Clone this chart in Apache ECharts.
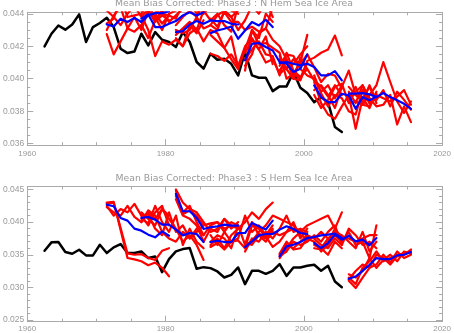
<!DOCTYPE html>
<html>
<head>
<meta charset="utf-8">
<script src="https://cdn.jsdelivr.net/npm/echarts@6/dist/echarts.min.js"></script>
<style>
html, body { margin: 0; padding: 0; background: #ffffff; }
#chart { width: 454px; height: 333px; }
</style>
</head>
<body>
<div id="chart"></div>
<script>
// Panel titles
const titles = [
  'Mean Bias Corrected: Phase3 : N Hem Sea Ice Area',
  'Mean Bias Corrected: Phase3 : S Hem Sea Ice Area'
];

// Axis ranges and tick values
const xRange = [1960, 2020];
const xMajorTicks = [1960, 1980, 2000, 2020];
const xMinorTicks = [1965, 1970, 1975, 1985, 1990, 1995, 2005, 2010, 2015];
const nhRange = [0.03591, 0.04409];
const nhMajorTicks = [0.036, 0.038, 0.040, 0.042, 0.044];
const nhMinorTicks = [0.0365, 0.037, 0.0375, 0.0385, 0.039, 0.0395, 0.0405, 0.041, 0.0415, 0.0425, 0.043, 0.0435];
const shRange = [0.02474, 0.04546];
const shMajorTicks = [0.025, 0.030, 0.035, 0.040, 0.045];
const shMinorTicks = [0.026, 0.027, 0.028, 0.029, 0.031, 0.032, 0.033, 0.034, 0.036, 0.037, 0.038, 0.039, 0.041, 0.042, 0.043, 0.044];

// Annual means are plotted at mid-year
const MID_YEAR = 0.5;

// Observed record
const obsYears = [1962, 1963, 1964, 1965, 1966, 1967, 1968, 1969, 1970, 1971,
  1972, 1973, 1974, 1975, 1976, 1977, 1978, 1979, 1980, 1981,
  1982, 1983, 1984, 1985, 1986, 1987, 1988, 1989, 1990, 1991,
  1992, 1993, 1994, 1995, 1996, 1997, 1998, 1999, 2000, 2001,
  2002, 2003, 2004, 2005];
const nhObs = [0.04199, 0.04277, 0.04328, 0.04302, 0.04334, 0.04396, 0.04226, 0.04318, 0.04343, 0.04375,
  0.04318, 0.04185, 0.04158, 0.04168, 0.04277, 0.04205, 0.04287, 0.04240, 0.04226, 0.04195,
  0.04287, 0.04226, 0.04103, 0.04062, 0.04154, 0.04117, 0.04123, 0.04092, 0.04021, 0.04164,
  0.04021, 0.04006, 0.04006, 0.03924, 0.03953, 0.03953, 0.04041, 0.03945, 0.03912, 0.03856,
  0.03887, 0.03856, 0.03703, 0.03672];
const shObs = [0.03562, 0.03690, 0.03695, 0.03541, 0.03515, 0.03577, 0.03490, 0.03490, 0.03654, 0.03526,
  0.03613, 0.03664, 0.03526, 0.03526, 0.03551, 0.03449, 0.03474, 0.03233, 0.03433, 0.03551,
  0.03587, 0.03603, 0.03285, 0.03310, 0.03295, 0.03244, 0.03151, 0.03192, 0.03305, 0.03049,
  0.03254, 0.03254, 0.03208, 0.03254, 0.03356, 0.03177, 0.03305, 0.03305, 0.03331, 0.03346,
  0.03254, 0.03331, 0.03090, 0.03003];

// Hindcast start years; each run covers ten annual values from its start
const startYears = [1971, 1976, 1981, 1986, 1991, 1996, 2001, 2006];

// Northern Hemisphere: ensemble mean and members per start year
const nhMean1971 = [0.04334, 0.04322, 0.04369, 0.04349, 0.04375, 0.04349, 0.04390, 0.04404, 0.04404, 0.04416];
const nhRuns1971 = [
  [0.04275, 0.04150, 0.04230, 0.04310, 0.04290, 0.04330, 0.04250, 0.04360, 0.04420, 0.04470],
  [0.04420, 0.04380, 0.04330, 0.04400, 0.04450, 0.04380, 0.04430, 0.04470, 0.04410, 0.04450],
  [0.04300, 0.04390, 0.04440, 0.04310, 0.04380, 0.04300, 0.04420, 0.04350, 0.04390, 0.04360],
  [0.04340, 0.04370, 0.04500, 0.04380, 0.04390, 0.04400, 0.04460, 0.04420, 0.04400, 0.04390]];
const nhMean1976 = [0.04370, 0.04396, 0.04318, 0.04318, 0.04338, 0.04355, 0.04390, 0.04410, 0.04390, 0.04410];
const nhRuns1976 = [
  [0.04390, 0.04300, 0.04140, 0.04230, 0.04210, 0.04240, 0.04200, 0.04330, 0.04280, 0.04360],
  [0.04420, 0.04450, 0.04380, 0.04300, 0.04400, 0.04420, 0.04470, 0.04440, 0.04500, 0.04420],
  [0.04330, 0.04420, 0.04360, 0.04410, 0.04350, 0.04390, 0.04430, 0.04480, 0.04400, 0.04460],
  [0.04350, 0.04410, 0.04400, 0.04340, 0.04390, 0.04370, 0.04460, 0.04420, 0.04380, 0.04470]];
const nhMean1981 = [0.04287, 0.04293, 0.04334, 0.04355, 0.04338, 0.04359, 0.04355, 0.04355, 0.04338, 0.04334];
const nhRuns1981 = [
  [0.04250, 0.04200, 0.04280, 0.04310, 0.04230, 0.04300, 0.04280, 0.04190, 0.04260, 0.04070],
  [0.04330, 0.04380, 0.04420, 0.04460, 0.04400, 0.04450, 0.04430, 0.04480, 0.04420, 0.04400],
  [0.04270, 0.04310, 0.04350, 0.04300, 0.04420, 0.04360, 0.04400, 0.04330, 0.04290, 0.04450],
  [0.04300, 0.04280, 0.04300, 0.04380, 0.04310, 0.04330, 0.04300, 0.04420, 0.04380, 0.04420]];
const nhMean1986 = [0.04281, 0.04297, 0.04308, 0.04322, 0.04246, 0.04297, 0.04349, 0.04328, 0.04363, 0.04318];
const nhRuns1986 = [
  [0.04154, 0.04140, 0.04110, 0.04150, 0.04080, 0.04200, 0.04250, 0.04180, 0.04260, 0.04090],
  [0.04330, 0.04390, 0.04420, 0.04380, 0.04300, 0.04360, 0.04450, 0.04400, 0.04480, 0.04380],
  [0.04270, 0.04230, 0.04190, 0.04120, 0.04060, 0.04180, 0.04300, 0.04250, 0.04400, 0.04350],
  [0.04370, 0.04320, 0.04410, 0.04350, 0.04350, 0.04300, 0.04320, 0.04290, 0.04310, 0.04440]];
const nhMean1991 = [0.04113, 0.04215, 0.04220, 0.04195, 0.04174, 0.04103, 0.04092, 0.04041, 0.04062, 0.04150];
const nhRuns1991 = [
  [0.04080, 0.04150, 0.04280, 0.04310, 0.04240, 0.04200, 0.04120, 0.04000, 0.03990, 0.04100],
  [0.04160, 0.04240, 0.04180, 0.04100, 0.04120, 0.04030, 0.04070, 0.04090, 0.04150, 0.04200],
  [0.04050, 0.04300, 0.04210, 0.04220, 0.04190, 0.04160, 0.04000, 0.04030, 0.04100, 0.04270],
  [0.04120, 0.04180, 0.04230, 0.04150, 0.04140, 0.04020, 0.04160, 0.04050, 0.04010, 0.04060]];
const nhMean1996 = [0.04096, 0.04103, 0.04092, 0.04082, 0.04092, 0.04072, 0.04021, 0.04021, 0.04047, 0.03990];
const nhRuns1996 = [
  [0.04050, 0.04120, 0.04030, 0.04000, 0.04110, 0.04130, 0.04160, 0.04180, 0.04266, 0.04144],
  [0.04120, 0.04060, 0.04000, 0.04130, 0.04060, 0.03990, 0.03950, 0.03890, 0.03960, 0.03900],
  [0.04080, 0.04150, 0.04140, 0.04060, 0.04020, 0.04000, 0.03920, 0.03960, 0.03880, 0.03960],
  [0.04140, 0.04060, 0.04120, 0.04090, 0.04150, 0.04070, 0.03980, 0.04030, 0.04020, 0.03940]];
const nhMean2001 = [0.03959, 0.03887, 0.03856, 0.03856, 0.03908, 0.03897, 0.03815, 0.03887, 0.03867, 0.03891];
const nhRuns2001 = [
  [0.03980, 0.03850, 0.03780, 0.03754, 0.03830, 0.03900, 0.03692, 0.03880, 0.03820, 0.03920],
  [0.03930, 0.03960, 0.03900, 0.03820, 0.03950, 0.04050, 0.03900, 0.03860, 0.03960, 0.03850],
  [0.04020, 0.03910, 0.03830, 0.03900, 0.03880, 0.03800, 0.03780, 0.03930, 0.03850, 0.03880],
  [0.03900, 0.03820, 0.03870, 0.03950, 0.03970, 0.03850, 0.03860, 0.03840, 0.03830, 0.03910]];
const nhMean2006 = [0.03908, 0.03908, 0.03912, 0.03904, 0.03887, 0.03912, 0.03887, 0.03867, 0.03846, 0.03815];
const nhRuns2006 = [
  [0.03880, 0.03950, 0.03840, 0.03900, 0.03960, 0.04103, 0.03980, 0.03860, 0.03790, 0.03860],
  [0.03920, 0.03850, 0.03960, 0.03880, 0.03830, 0.03840, 0.03900, 0.03719, 0.03830, 0.03733],
  [0.03950, 0.03900, 0.03880, 0.03950, 0.03870, 0.03930, 0.03830, 0.03920, 0.03870, 0.03810],
  [0.03860, 0.03920, 0.03960, 0.03850, 0.03900, 0.03880, 0.03860, 0.03890, 0.03930, 0.03840]];

// Southern Hemisphere: ensemble mean and members per start year
const shMean1971 = [0.04269, 0.04244, 0.04064, 0.04023, 0.03900, 0.03869, 0.03808, 0.03767, 0.03859, 0.03792];
const shRuns1971 = [
  [0.04300, 0.04310, 0.03880, 0.03450, 0.03430, 0.03400, 0.03340, 0.03380, 0.03300, 0.03170],
  [0.04290, 0.04300, 0.03910, 0.03520, 0.03500, 0.03510, 0.03450, 0.03420, 0.03560, 0.03600],
  [0.04250, 0.04100, 0.04200, 0.04150, 0.04280, 0.04100, 0.03950, 0.04150, 0.04250, 0.03950],
  [0.04230, 0.04150, 0.04100, 0.04250, 0.04080, 0.04000, 0.04150, 0.04050, 0.04200, 0.04100]];
const shMean1976 = [0.04064, 0.04079, 0.04038, 0.03962, 0.03962, 0.03885, 0.03797, 0.03833, 0.03818, 0.03695];
const shRuns1976 = [
  [0.04150, 0.04050, 0.03950, 0.04200, 0.04050, 0.03900, 0.03700, 0.03800, 0.03650, 0.03420],
  [0.04000, 0.04180, 0.04100, 0.03850, 0.03750, 0.03700, 0.03850, 0.03750, 0.03900, 0.03800],
  [0.04050, 0.03980, 0.04250, 0.04000, 0.03850, 0.04100, 0.03650, 0.03900, 0.03700, 0.03600],
  [0.04100, 0.04120, 0.03900, 0.03800, 0.04150, 0.03850, 0.03950, 0.03750, 0.03850, 0.03950]];
const shMean1981 = [0.04433, 0.04167, 0.04167, 0.04064, 0.03895, 0.03921, 0.03936, 0.03962, 0.03946, 0.03946];
const shRuns1981 = [
  [0.04500, 0.04300, 0.04200, 0.04150, 0.04000, 0.03850, 0.03900, 0.04050, 0.03950, 0.03900],
  [0.04400, 0.04150, 0.04250, 0.04000, 0.03800, 0.03950, 0.04000, 0.03850, 0.04000, 0.03950],
  [0.04350, 0.04100, 0.04050, 0.03950, 0.03700, 0.03900, 0.03850, 0.04050, 0.03900, 0.04000],
  [0.04480, 0.04120, 0.04180, 0.04100, 0.03950, 0.03980, 0.04000, 0.03900, 0.03950, 0.03920]];
const shMean1986 = [0.03695, 0.03715, 0.03695, 0.03695, 0.03833, 0.03833, 0.03987, 0.03936, 0.03885, 0.04023];
const shRuns1986 = [
  [0.03650, 0.03750, 0.03600, 0.03800, 0.03900, 0.04000, 0.04150, 0.04050, 0.04200, 0.04300],
  [0.03800, 0.03650, 0.03850, 0.03700, 0.03750, 0.04100, 0.03850, 0.03950, 0.03800, 0.03950],
  [0.03700, 0.03800, 0.03750, 0.03600, 0.03950, 0.03650, 0.04000, 0.03800, 0.03750, 0.03900],
  [0.03620, 0.03680, 0.03580, 0.03700, 0.03720, 0.03600, 0.03950, 0.03900, 0.03780, 0.03880]];
const shMean1991 = [0.03618, 0.03705, 0.03797, 0.03818, 0.03818, 0.03885, 0.03936, 0.03895, 0.03833, 0.03818];
const shRuns1991 = [
  [0.03600, 0.03700, 0.03850, 0.03950, 0.04100, 0.04050, 0.04000, 0.03950, 0.03800, 0.03750],
  [0.03550, 0.03750, 0.03700, 0.03850, 0.03750, 0.03900, 0.04100, 0.03850, 0.03900, 0.03850],
  [0.03700, 0.03650, 0.03800, 0.03700, 0.03850, 0.03800, 0.03850, 0.04000, 0.03750, 0.03900],
  [0.03620, 0.03720, 0.03820, 0.03780, 0.03620, 0.03700, 0.03850, 0.03900, 0.03880, 0.03780]];
const shMean1996 = [0.03474, 0.03628, 0.03654, 0.03695, 0.03756, 0.03772, 0.03797, 0.03808, 0.03823, 0.03756];
const shRuns1996 = [
  [0.03450, 0.03600, 0.03750, 0.03850, 0.03950, 0.04000, 0.04050, 0.04100, 0.03900, 0.04150],
  [0.03500, 0.03650, 0.03600, 0.03700, 0.03800, 0.03750, 0.03850, 0.03750, 0.03800, 0.03700],
  [0.03480, 0.03550, 0.03700, 0.03650, 0.03700, 0.03800, 0.03700, 0.03850, 0.03950, 0.03650],
  [0.03520, 0.03700, 0.03580, 0.03600, 0.03750, 0.03700, 0.03600, 0.03500, 0.03700, 0.03600]];
const shMean2001 = [0.03679, 0.03603, 0.03679, 0.03808, 0.03731, 0.03792, 0.03705, 0.03731, 0.03644, 0.03756];
const shRuns2001 = [
  [0.03700, 0.03550, 0.03650, 0.03800, 0.03700, 0.03850, 0.03650, 0.03700, 0.03450, 0.03950],
  [0.03650, 0.03600, 0.03750, 0.03850, 0.03800, 0.03700, 0.03600, 0.03850, 0.03550, 0.03700],
  [0.03750, 0.03650, 0.03600, 0.03750, 0.03650, 0.03900, 0.03800, 0.03650, 0.03700, 0.03600],
  [0.03600, 0.03580, 0.03700, 0.03900, 0.03750, 0.03750, 0.03700, 0.03750, 0.03800, 0.03800]];
const shMean2006 = [0.03131, 0.03167, 0.03254, 0.03346, 0.03449, 0.03433, 0.03433, 0.03490, 0.03500, 0.03541];
const shRuns2006 = [
  [0.03150, 0.03050, 0.03300, 0.03400, 0.03550, 0.03400, 0.03450, 0.03500, 0.03520, 0.03550],
  [0.03100, 0.02990, 0.03150, 0.03300, 0.03350, 0.03500, 0.03380, 0.03550, 0.03450, 0.03500],
  [0.03200, 0.03150, 0.03250, 0.03450, 0.03300, 0.03420, 0.03500, 0.03400, 0.03550, 0.03520],
  [0.03120, 0.03250, 0.03350, 0.03300, 0.03500, 0.03450, 0.03350, 0.03480, 0.03500, 0.03580]];

const nhMeans = [nhMean1971, nhMean1976, nhMean1981, nhMean1986, nhMean1991, nhMean1996, nhMean2001, nhMean2006];
const nhRuns = [nhRuns1971, nhRuns1976, nhRuns1981, nhRuns1986, nhRuns1991, nhRuns1996, nhRuns2001, nhRuns2006];
const shMeans = [shMean1971, shMean1976, shMean1981, shMean1986, shMean1991, shMean1996, shMean2001, shMean2006];
const shRuns = [shRuns1971, shRuns1976, shRuns1981, shRuns1986, shRuns1991, shRuns1996, shRuns2001, shRuns2006];

// ---- styling ----
const LABEL_FONT = 'Liberation Sans';
const TITLE_FONT = 'DejaVu Sans';
const AXIS_COLOR = '#aaaaaa';
const LABEL_COLOR = '#999999';
const grids = [
  { left: 24, right: 10, top: 12.3, height: 132.9 },
  { left: 24, right: 10, top: 186.5, height: 135.2 }
];
const xLabelMargins = [4.5, 3];

function xAxes(gridIndex) {
  const base = { type: 'value', gridIndex, min: xRange[0], max: xRange[1], splitLine: { show: false } };
  const line = { show: true, onZero: false, lineStyle: { color: AXIS_COLOR, width: 1 } };
  return [
    Object.assign({}, base, { position: 'bottom', axisLine: line,
      axisTick: { show: true, inside: true, length: 6, customValues: xMajorTicks, lineStyle: { color: AXIS_COLOR } },
      axisLabel: { show: true, customValues: xMajorTicks, margin: xLabelMargins[gridIndex], color: LABEL_COLOR,
        fontFamily: LABEL_FONT, fontSize: 8, showMinLabel: true, showMaxLabel: true,
        formatter: v => String(Math.round(v)) } }),
    Object.assign({}, base, { position: 'bottom', axisLine: { show: false },
      axisTick: { show: true, inside: true, length: 3, customValues: xMinorTicks, lineStyle: { color: AXIS_COLOR } },
      axisLabel: { show: false } }),
    Object.assign({}, base, { position: 'top', axisLine: line,
      axisTick: { show: true, inside: true, length: 6, customValues: xMajorTicks, lineStyle: { color: AXIS_COLOR } },
      axisLabel: { show: false } }),
    Object.assign({}, base, { position: 'top', axisLine: { show: false },
      axisTick: { show: true, inside: true, length: 3, customValues: xMinorTicks, lineStyle: { color: AXIS_COLOR } },
      axisLabel: { show: false } })
  ];
}

function yAxes(gridIndex, range, major, minor) {
  const base = { type: 'value', gridIndex, min: range[0], max: range[1], scale: true, splitLine: { show: false } };
  const line = { show: true, onZero: false, lineStyle: { color: AXIS_COLOR, width: 1 } };
  return [
    Object.assign({}, base, { position: 'left', axisLine: line,
      axisTick: { show: true, inside: true, length: 6, customValues: major, lineStyle: { color: AXIS_COLOR } },
      axisLabel: { show: true, customValues: major, margin: 3, color: LABEL_COLOR, fontFamily: LABEL_FONT, fontSize: 8.5,
        formatter: v => v.toFixed(3) } }),
    Object.assign({}, base, { position: 'left', axisLine: { show: false },
      axisTick: { show: true, inside: true, length: 3, customValues: minor, lineStyle: { color: AXIS_COLOR } },
      axisLabel: { show: false } }),
    Object.assign({}, base, { position: 'right', axisLine: line,
      axisTick: { show: true, inside: true, length: 6, customValues: major, lineStyle: { color: AXIS_COLOR } },
      axisLabel: { show: false } }),
    Object.assign({}, base, { position: 'right', axisLine: { show: false },
      axisTick: { show: true, inside: true, length: 3, customValues: minor, lineStyle: { color: AXIS_COLOR } },
      axisLabel: { show: false } })
  ];
}

function lineSeries(panel, points, color, width) {
  return {
    type: 'line', xAxisIndex: panel * 4, yAxisIndex: panel * 4, data: points,
    showSymbol: false, symbol: 'none', clip: true, silent: true, animation: false,
    lineStyle: { color, width, join: 'round', cap: 'round' }
  };
}

const series = [];
function addPanel(panel, obs, means, runs) {
  series.push(lineSeries(panel, obsYears.map((y, i) => [y + MID_YEAR, obs[i]]), '#000000', 2.5));
  startYears.forEach((s, g) => {
    runs[g].forEach(run => series.push(lineSeries(panel, run.map((v, i) => [s + i + MID_YEAR, v]), '#ff0000', 2.2)));
  });
  startYears.forEach((s, g) => {
    series.push(lineSeries(panel, means[g].map((v, i) => [s + i + MID_YEAR, v]), '#0000ff', 2.2));
  });
}
addPanel(0, nhObs, nhMeans, nhRuns);
addPanel(1, shObs, shMeans, shRuns);

const titleStyle = { fontFamily: TITLE_FONT, fontSize: 9.3, fontWeight: 'normal', color: LABEL_COLOR };
const chart = echarts.init(document.getElementById('chart'), null, { renderer: 'canvas' });
chart.setOption({
  animation: false,
  backgroundColor: '#ffffff',
  title: [
    { text: titles[0], left: 234, top: -0.5, padding: 0, textAlign: 'center', textStyle: titleStyle },
    { text: titles[1], left: 234, top: 174.5, padding: 0, textAlign: 'center', textStyle: titleStyle }
  ],
  grid: grids,
  xAxis: xAxes(0).concat(xAxes(1)),
  yAxis: yAxes(0, nhRange, nhMajorTicks, nhMinorTicks).concat(yAxes(1, shRange, shMajorTicks, shMinorTicks)),
  series
});
</script>
</body>
</html>
